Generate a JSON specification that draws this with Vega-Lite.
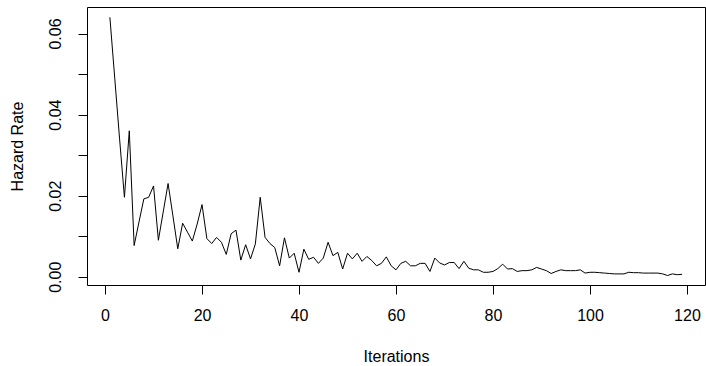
{
  "$schema": "https://vega.github.io/schema/vega-lite/v6.json",
  "width": 618,
  "height": 278,
  "autosize": {"type": "none"},
  "padding": {"left": 87, "top": 7, "right": 1, "bottom": 81},
  "background": "white",
  "config": {
    "view": {"stroke": "#000000", "strokeWidth": 1},
    "font": "Liberation Sans",
    "axis": {
      "grid": false,
      "domain": false,
      "tickColor": "#000000",
      "tickSize": 9,
      "labelColor": "#000000",
      "titleColor": "#000000",
      "labelFont": "Liberation Sans",
      "titleFont": "Liberation Sans",
      "labelFontSize": 16,
      "titleFontSize": 16,
      "titleFontWeight": "normal"
    }
  },
  "data": {
    "values": [
      {"i": 1, "v": 0.064}, {"i": 2, "v": 0.049}, {"i": 3, "v": 0.034}, {"i": 4, "v": 0.0196}, {"i": 5, "v": 0.036},
      {"i": 6, "v": 0.0077}, {"i": 7, "v": 0.0135}, {"i": 8, "v": 0.0192}, {"i": 9, "v": 0.0196}, {"i": 10, "v": 0.0224},
      {"i": 11, "v": 0.009}, {"i": 12, "v": 0.016}, {"i": 13, "v": 0.023}, {"i": 14, "v": 0.015}, {"i": 15, "v": 0.0069},
      {"i": 16, "v": 0.0132}, {"i": 17, "v": 0.011}, {"i": 18, "v": 0.0088}, {"i": 19, "v": 0.013}, {"i": 20, "v": 0.0178},
      {"i": 21, "v": 0.0094}, {"i": 22, "v": 0.0082}, {"i": 23, "v": 0.0097}, {"i": 24, "v": 0.0085}, {"i": 25, "v": 0.0055},
      {"i": 26, "v": 0.0106}, {"i": 27, "v": 0.0115}, {"i": 28, "v": 0.0041}, {"i": 29, "v": 0.0079}, {"i": 30, "v": 0.0044},
      {"i": 31, "v": 0.0081}, {"i": 32, "v": 0.0196}, {"i": 33, "v": 0.0097}, {"i": 34, "v": 0.0082}, {"i": 35, "v": 0.0072},
      {"i": 36, "v": 0.0027}, {"i": 37, "v": 0.0096}, {"i": 38, "v": 0.0046}, {"i": 39, "v": 0.0058}, {"i": 40, "v": 0.0011},
      {"i": 41, "v": 0.0068}, {"i": 42, "v": 0.0043}, {"i": 43, "v": 0.0048}, {"i": 44, "v": 0.0033}, {"i": 45, "v": 0.0046},
      {"i": 46, "v": 0.0085}, {"i": 47, "v": 0.0052}, {"i": 48, "v": 0.006}, {"i": 49, "v": 0.0019}, {"i": 50, "v": 0.0058},
      {"i": 51, "v": 0.0044}, {"i": 52, "v": 0.0058}, {"i": 53, "v": 0.0038}, {"i": 54, "v": 0.005}, {"i": 55, "v": 0.004},
      {"i": 56, "v": 0.0027}, {"i": 57, "v": 0.0033}, {"i": 58, "v": 0.0049}, {"i": 59, "v": 0.0027}, {"i": 60, "v": 0.0017},
      {"i": 61, "v": 0.0033}, {"i": 62, "v": 0.0038}, {"i": 63, "v": 0.0027}, {"i": 64, "v": 0.0027}, {"i": 65, "v": 0.0033},
      {"i": 66, "v": 0.0033}, {"i": 67, "v": 0.0013}, {"i": 68, "v": 0.0046}, {"i": 69, "v": 0.0034}, {"i": 70, "v": 0.0029},
      {"i": 71, "v": 0.0035}, {"i": 72, "v": 0.0035}, {"i": 73, "v": 0.002}, {"i": 74, "v": 0.0038}, {"i": 75, "v": 0.0021},
      {"i": 76, "v": 0.0017}, {"i": 77, "v": 0.0017}, {"i": 78, "v": 0.0011}, {"i": 79, "v": 0.0011}, {"i": 80, "v": 0.0013},
      {"i": 81, "v": 0.002}, {"i": 82, "v": 0.0031}, {"i": 83, "v": 0.0019}, {"i": 84, "v": 0.002}, {"i": 85, "v": 0.0013},
      {"i": 86, "v": 0.0015}, {"i": 87, "v": 0.0015}, {"i": 88, "v": 0.0017}, {"i": 89, "v": 0.0023}, {"i": 90, "v": 0.0019},
      {"i": 91, "v": 0.0015}, {"i": 92, "v": 0.0008}, {"i": 93, "v": 0.0013}, {"i": 94, "v": 0.0017}, {"i": 95, "v": 0.0015},
      {"i": 96, "v": 0.0015}, {"i": 97, "v": 0.0015}, {"i": 98, "v": 0.0017}, {"i": 99, "v": 0.0009}, {"i": 100, "v": 0.0011},
      {"i": 101, "v": 0.0011}, {"i": 102, "v": 0.001}, {"i": 103, "v": 0.0009}, {"i": 104, "v": 0.0008}, {"i": 105, "v": 0.0007},
      {"i": 106, "v": 0.0007}, {"i": 107, "v": 0.0007}, {"i": 108, "v": 0.0011}, {"i": 109, "v": 0.001}, {"i": 110, "v": 0.001},
      {"i": 111, "v": 0.0009}, {"i": 112, "v": 0.0009}, {"i": 113, "v": 0.0009}, {"i": 114, "v": 0.0009}, {"i": 115, "v": 0.0007},
      {"i": 116, "v": 0.0003}, {"i": 117, "v": 0.0007}, {"i": 118, "v": 0.0005}, {"i": 119, "v": 0.0006}
    ]
  },
  "mark": {"type": "line", "color": "#000000", "strokeWidth": 1, "clip": true},
  "encoding": {
    "x": {
      "field": "i",
      "type": "quantitative",
      "scale": {"domain": [-3.72, 123.72], "nice": false, "zero": false},
      "axis": {
        "title": "Iterations",
        "values": [0, 20, 40, 60, 80, 100, 120],
        "format": "d",
        "labelPadding": 13,
        "titlePadding": 25
      }
    },
    "y": {
      "field": "v",
      "type": "quantitative",
      "scale": {"domain": [-0.00204, 0.06654], "nice": false, "zero": false},
      "axis": {
        "title": "Hazard Rate",
        "values": [0, 0.01, 0.02, 0.03, 0.04, 0.05, 0.06],
        "labelExpr": "round(datum.value * 100) % 2 == 0 ? format(datum.value, '.2f') : ''",
        "labelAngle": -90,
        "labelAlign": "center",
        "labelBaseline": "bottom",
        "labelPadding": 15,
        "titlePadding": 22
      }
    }
  }
}
